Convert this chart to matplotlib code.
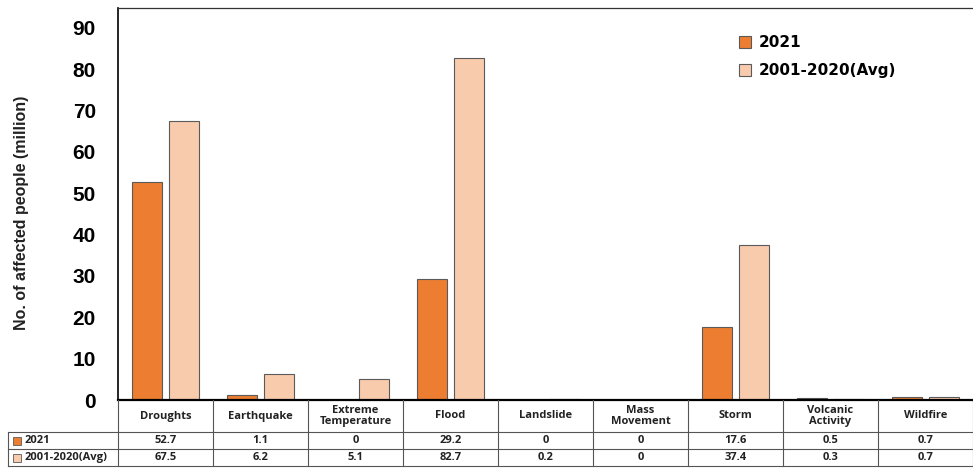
import matplotlib.pyplot as plt
import numpy as np
from matplotlib.patches import Rectangle

categories = ["Droughts", "Earthquake", "Extreme\nTemperature", "Flood", "Landslide",
              "Mass\nMovement", "Storm", "Volcanic\nActivity", "Wildfire"]
series_names = ["2021", "2001-2020(Avg)"]
values_2021 = [52.7, 1.1, 0, 29.2, 0, 0, 17.6, 0.5, 0.7]
values_avg = [67.5, 6.2, 5.1, 82.7, 0.2, 0, 37.4, 0.3, 0.7]
yticks = [0, 10, 20, 30, 40, 50, 60, 70, 80, 90]

colors = ["#ED7D31", "#F8CBAD"]
edge = "#5a5a5a"

W, H = 973, 468
fig = plt.figure(figsize=(W / 100, H / 100), dpi=100)
plt.rcParams["font.family"] = ["Liberation Sans", "DejaVu Sans"]

left, right, top, bottom = 118, 973, 8, 400
ax = fig.add_axes([left / W, 1 - bottom / H, (right - left) / W, (bottom - top) / H])

x = np.arange(len(categories))
bw, off = 0.32, 0.195
ax.bar(x - off, values_2021, bw, color=colors[0], edgecolor=edge, linewidth=0.8, label=series_names[0])
ax.bar(x + off, values_avg, bw, color=colors[1], edgecolor=edge, linewidth=0.8, label=series_names[1])

ax.set_xlim(-0.5, len(categories) - 0.5)
ax.set_ylim(0, 94.8)
ax.set_yticks(yticks)
ax.set_xticks([])
ax.tick_params(axis="y", length=0, pad=16, labelsize=15)
for lab in ax.get_yticklabels():
    lab.set_fontweight("bold")
ax.spines["right"].set_visible(False)
ax.spines["top"].set_color("#333333")
ax.spines["top"].set_linewidth(0.9)
ax.spines["left"].set_linewidth(1.2)
ax.spines["bottom"].set_linewidth(1.6)
fig.text(22 / W, 1 - 213 / H, "No. of affected people (million)", rotation=90,
         ha="center", va="center", fontsize=11.5, fontweight="bold", color="#222222")

leg = ax.legend(loc="upper left", bbox_to_anchor=(0.71, 0.966), frameon=False,
                prop={"family": "DejaVu Sans", "weight": "bold", "size": 11},
                handlelength=0.8, handleheight=0.8,
                labelspacing=0.85, handletextpad=0.5)

# data table drawn under the axes, in pixel coordinates
def fx(px):
    return px / W


def fy(py):
    return 1 - py / H


tfont = {"family": ["Open Sans", "DejaVu Sans"], "fontsize": 8, "fontweight": "bold",
         "color": "#222222"}
col_w = (right - left) / len(categories)
row_edges = [400, 432, 449, 466]
line_kw = dict(color="#555555", linewidth=0.8, transform=fig.transFigure)

# horizontal lines
for yy in row_edges[1:]:
    fig.add_artist(plt.Line2D([fx(8), fx(right)], [fy(yy), fy(yy)], **line_kw))
# vertical lines
for i in range(len(categories) + 1):
    xx = left + i * col_w
    fig.add_artist(plt.Line2D([fx(xx), fx(xx)], [fy(400), fy(466)], **line_kw))
fig.add_artist(plt.Line2D([fx(8), fx(8)], [fy(432), fy(466)], **line_kw))

for i, cat in enumerate(categories):
    cx = left + (i + 0.5) * col_w
    fig.text(fx(cx), fy(416), cat, ha="center", va="center", linespacing=1.1, **tfont)
    for r, vals in enumerate([values_2021, values_avg]):
        cy = (row_edges[r + 1] + row_edges[r + 2]) / 2
        fig.text(fx(cx), fy(cy), f"{vals[i]:g}", ha="center", va="center", **tfont)

for r, name in enumerate(series_names):
    cy = (row_edges[r + 1] + row_edges[r + 2]) / 2
    fig.add_artist(Rectangle((fx(13), fy(cy + 4)), 8 / W, 8 / H, facecolor=colors[r],
                             edgecolor=edge, linewidth=0.6, transform=fig.transFigure))
    fig.text(fx(25), fy(cy), name, ha="left", va="center", **tfont)

fig.savefig("out.png", dpi=100)
